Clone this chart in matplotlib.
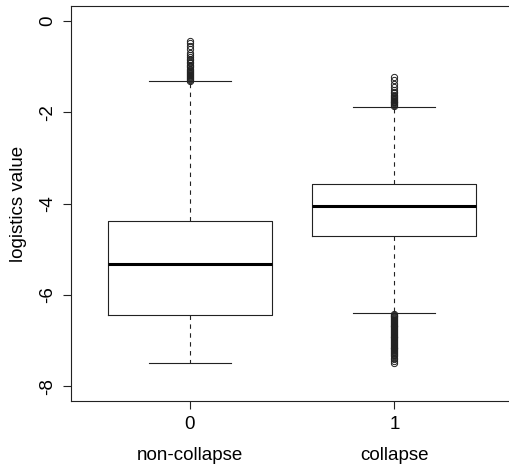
import numpy as np
import matplotlib
matplotlib.use("Agg")
import matplotlib.pyplot as plt
from matplotlib.transforms import blended_transform_factory

plt.rcParams['font.family'] = ['Liberation Sans', 'DejaVu Sans']

# grupos del boxplot
grupos = ['0', '1']
nombres = ['non-collapse', 'collapse']

# estadisticos
bigote_inf = [-7.48, -6.40]
q1 = [-6.43, -4.70]
mediana = [-5.32, -4.06]
q3 = [-4.39, -3.57]
bigote_sup = [-1.32, -1.88]

# outliers aproximados
outliers_0 = [-1.31, -1.29, -1.27, -1.25, -1.23, -1.21, -1.19, -1.17, -1.15, -1.13,
              -1.11, -1.08, -1.05, -1.02, -0.99, -0.96, -0.93, -0.90, -0.87,
              -0.84, -0.80, -0.76, -0.70, -0.63, -0.56, -0.49, -0.45]
outliers_1 = [-1.87, -1.85, -1.83, -1.81, -1.79, -1.77, -1.75, -1.73, -1.71, -1.69,
              -1.67, -1.65, -1.62, -1.59, -1.56, -1.52, -1.46, -1.38, -1.30, -1.24,
              -6.41, -6.43, -6.45, -6.47, -6.49, -6.51, -6.53, -6.55, -6.57, -6.59,
              -6.61, -6.63, -6.65, -6.67, -6.69, -6.71, -6.73, -6.75, -6.77, -6.79,
              -6.81, -6.83, -6.85, -6.87, -6.89, -6.91, -6.93, -6.95, -6.97, -6.99,
              -7.01, -7.03, -7.05, -7.07, -7.09, -7.11, -7.13, -7.15, -7.17, -7.19,
              -7.21, -7.23, -7.25, -7.27, -7.29, -7.31, -7.34, -7.37, -7.41, -7.45,
              -7.49]

stats = []
for i, flier in enumerate([outliers_0, outliers_1]):
    stats.append({
        'whislo': bigote_inf[i], 'q1': q1[i], 'med': mediana[i],
        'q3': q3[i], 'whishi': bigote_sup[i], 'fliers': flier,
    })

fig = plt.figure(figsize=(5.09, 4.68), dpi=100)
ax = fig.add_axes([71 / 509, 67 / 468, 442 / 509, 395 / 468])

col = '#222222'
ax.bxp(stats, positions=[1, 2], widths=0.8, capwidths=0.4,
       boxprops=dict(color=col, linewidth=0.8),
       medianprops=dict(color='black', linewidth=2.2, solid_capstyle='butt'),
       whiskerprops=dict(color=col, linewidth=0.8, linestyle=(0, (4, 4))),
       capprops=dict(color=col, linewidth=0.8),
       flierprops=dict(marker='o', markersize=4.5, markerfacecolor='none',
                       markeredgecolor=col, markeredgewidth=0.7))

ax.set_xlim(0.42, 2.58)
ax.set_ylim(-8.32, 0.32)
ax.set_yticks([-8, -6, -4, -2, 0])
ax.set_yticklabels(['-8', '-6', '-4', '-2', '0'], rotation=90, va='center')
ax.set_xticks([1, 2])
ax.set_xticklabels(grupos)
ax.tick_params(labelsize=13.5, length=5.5, width=0.8, color=col, pad=5)
for s in ax.spines.values():
    s.set_color(col)
    s.set_linewidth(0.8)

# etiqueta del eje y: el borde derecho del texto queda en x = 27 px
ax.set_ylabel('logistics value', fontsize=13.5)
ax.yaxis.set_label_coords(27 / 509, 0.5,
                          transform=blended_transform_factory(fig.transFigure, ax.transAxes))

tr = blended_transform_factory(ax.transData, fig.transFigure)
for i, n in enumerate(nombres):
    ax.text(i + 1, 13 / 468, n, transform=tr, ha='center', va='center', fontsize=13.5)

fig.savefig('out.png', dpi=100)
